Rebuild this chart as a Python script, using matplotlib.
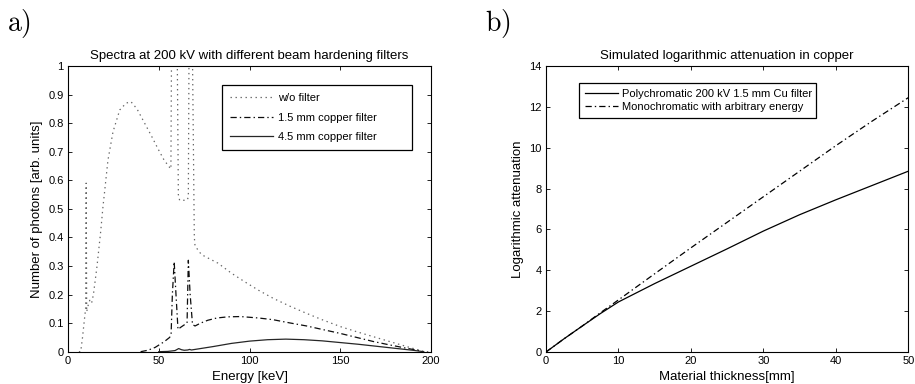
import matplotlib
matplotlib.use("Agg")
import matplotlib.pyplot as plt
from matplotlib.ticker import FuncFormatter

plt.rcParams['font.family'] = ['Liberation Sans', 'DejaVu Sans']
plt.rcParams['mathtext.fontset'] = 'cm'
plt.rcParams['lines.scale_dashes'] = False

# ---------------- data: panel a) spectra ----------------
E_nofilter = [6, 7, 8, 9, 9.7, 10, 10.3, 11, 12, 13, 14, 16, 18, 19.3, 20, 22, 24.8, 28.5, 32, 34.7,
              38, 42.2, 46, 49.6, 53, 56, 56.7, 57.5, 58.5, 59.5, 60.8, 61.5, 63, 65.5, 66.3, 67, 68,
              69.6, 70, 73.5, 78, 82.6, 90, 97.3, 105, 113, 122, 131.5, 140, 150, 159, 168, 177,
              186.6, 192, 196.5, 200]
v_nofilter = [0, 0, 0.05, 0.11, 0.15, 0.59, 0.14, 0.16, 0.18, 0.17, 0.2, 0.3, 0.42, 0.51, 0.55, 0.67,
              0.77, 0.846, 0.87, 0.875, 0.85, 0.80, 0.755, 0.71, 0.67, 0.645, 0.64, 1.6, 1.8, 1.6,
              0.55, 0.53, 0.53, 0.53, 0.54, 1.5, 1.4, 0.40, 0.37, 0.34, 0.325, 0.31, 0.275, 0.245,
              0.215, 0.187, 0.16, 0.134, 0.112, 0.088, 0.07, 0.053, 0.036, 0.018, 0.008, 0.0, 0.0]

E_cu15 = [40, 44, 48, 53, 56, 56.8, 57.5, 58.5, 59.5, 60.6, 62, 64.3, 65.6, 66.3, 67.3, 68.6, 70, 73,
          77, 82, 88, 95, 105, 113, 122, 131.5, 140, 150, 159, 168, 177, 186.6, 195]
v_cu15 = [0, 0.005, 0.015, 0.035, 0.05, 0.06, 0.2, 0.315, 0.2, 0.078, 0.085, 0.095, 0.1, 0.32, 0.2,
          0.095, 0.09, 0.1, 0.11, 0.118, 0.122, 0.123, 0.118, 0.112, 0.101, 0.09, 0.078, 0.064,
          0.05, 0.036, 0.024, 0.012, 0.002]

E_cu45 = [50, 55, 59, 61, 62.5, 64, 66, 67, 68, 72, 80, 90, 100, 110, 120, 130, 140, 150, 160, 170,
          180, 190, 196]
v_cu45 = [0, 0.001, 0.004, 0.011, 0.007, 0.005, 0.006, 0.008, 0.006, 0.01, 0.018, 0.029, 0.037,
          0.042, 0.044, 0.042, 0.038, 0.032, 0.026, 0.019, 0.012, 0.005, 0]

labels_a = ['w/o filter', '1.5 mm copper filter', '4.5 mm copper filter']

# ---------------- data: panel b) attenuation ----------------
thickness = [0, 2.5, 5, 7.5, 10, 15, 20, 25, 30, 35, 40, 45, 50]
poly_att = [0, 0.65, 1.27, 1.88, 2.45, 3.35, 4.2, 5.05, 5.92, 6.72, 7.45, 8.15, 8.85]
mono_att = [0, 0.65, 1.27, 1.92, 2.55, 3.83, 5.1, 6.35, 7.6, 8.85, 10.1, 11.3, 12.45]
labels_b = ['Polychromatic 200 kV 1.5 mm Cu filter', 'Monochromatic with arbitrary energy']

fig = plt.figure(figsize=(9.15, 3.84), dpi=100)
W, H = 915, 384

def axes_px(l, r, t, b):
    return fig.add_axes([l / W, 1 - b / H, (r - l) / W, (b - t) / H])

axA = axes_px(68, 431, 66, 351.7)
axB = axes_px(546, 908.3, 66, 352)

DOT = (0, (1.0, 2.6))
DASHDOT = (0, (4.5, 2.2, 1.0, 2.2))

def style(ax):
    for s in ax.spines.values():
        s.set_linewidth(0.8)
        s.set_color('black')
    ax.tick_params(direction='in', length=3, width=0.6, top=True, right=True,
                   labelsize=8, pad=3, colors='black')

# panel a
axA.plot(E_nofilter, v_nofilter, color='0.4', lw=0.9, ls=DOT, label=labels_a[0])
axA.plot(E_cu15, v_cu15, color='0.05', lw=0.9, ls=DASHDOT, label=labels_a[1])
axA.plot(E_cu45, v_cu45, color='0.15', lw=0.9, ls='-', label=labels_a[2])
axA.set_xlim(0, 200)
axA.set_ylim(0, 1)
axA.set_xticks([0, 50, 100, 150, 200])
axA.set_yticks([i / 10 for i in range(11)])
axA.yaxis.set_major_formatter(FuncFormatter(lambda v, p: '%g' % v))
style(axA)
axA.set_title('Spectra at 200 kV with different beam hardening filters', fontsize=9.5, pad=5)
axA.set_xlabel('Energy [keV]', fontsize=9.5)
axA.set_ylabel('Number of photons [arb. units]', fontsize=9.5)
axA.xaxis.label.set_va('center')
axA.yaxis.label.set_va('center')
axA.xaxis.set_label_coords(0.5, (351.7 - 377) / 285.7)
axA.yaxis.set_label_coords((37 - 68) / 363, 0.5)
legA = axA.legend(loc='upper left', bbox_to_anchor=((221.7 - 68) / 363, (351.7 - 87.7) / 285.7,
                                                     (412.3 - 221.7) / 363, 0.01),
                  mode='expand', borderaxespad=0, fontsize=8, handlelength=3.9,
                  handletextpad=0.45, labelspacing=0.85, borderpad=0.75, fancybox=False,
                  edgecolor='black', framealpha=1)
legA.get_frame().set_linewidth(0.9)

# panel b
axB.plot(thickness, poly_att, color='black', lw=0.9, ls='-', label=labels_b[0])
axB.plot(thickness, mono_att, color='black', lw=0.9, ls=DASHDOT, label=labels_b[1])
axB.set_xlim(0, 50)
axB.set_ylim(0, 14)
axB.set_xticks([0, 10, 20, 30, 40, 50])
axB.set_yticks(list(range(0, 15, 2)))
style(axB)
axB.set_title('Simulated logarithmic attenuation in copper', fontsize=9.5, pad=5)
axB.set_xlabel('Material thickness[mm]', fontsize=9.5)
axB.set_ylabel('Logarithmic attenuation', fontsize=9.5)
axB.xaxis.label.set_va('center')
axB.yaxis.label.set_va('center')
axB.xaxis.set_label_coords(0.5, (352 - 377) / 286)
axB.yaxis.set_label_coords((518 - 546) / 362.3, 0.5)
legB = axB.legend(loc='upper left', bbox_to_anchor=((579.3 - 546) / 362.3, (352 - 86) / 286,
                                                     (815.7 - 579.3) / 362.3, 0.01),
                  mode='expand', borderaxespad=0, fontsize=8, handlelength=3.0,
                  handletextpad=0.35, labelspacing=0.3, borderpad=0.5, fancybox=False,
                  edgecolor='black', framealpha=1)
legB.get_frame().set_linewidth(0.9)

fig.text(7 / W, 1 - 31 / H, r'$\mathrm{a)}$', fontsize=20, va='baseline', ha='left')
fig.text(485 / W, 1 - 31 / H, r'$\mathrm{b)}$', fontsize=20, va='baseline', ha='left')

fig.savefig('out.png', dpi=100)
